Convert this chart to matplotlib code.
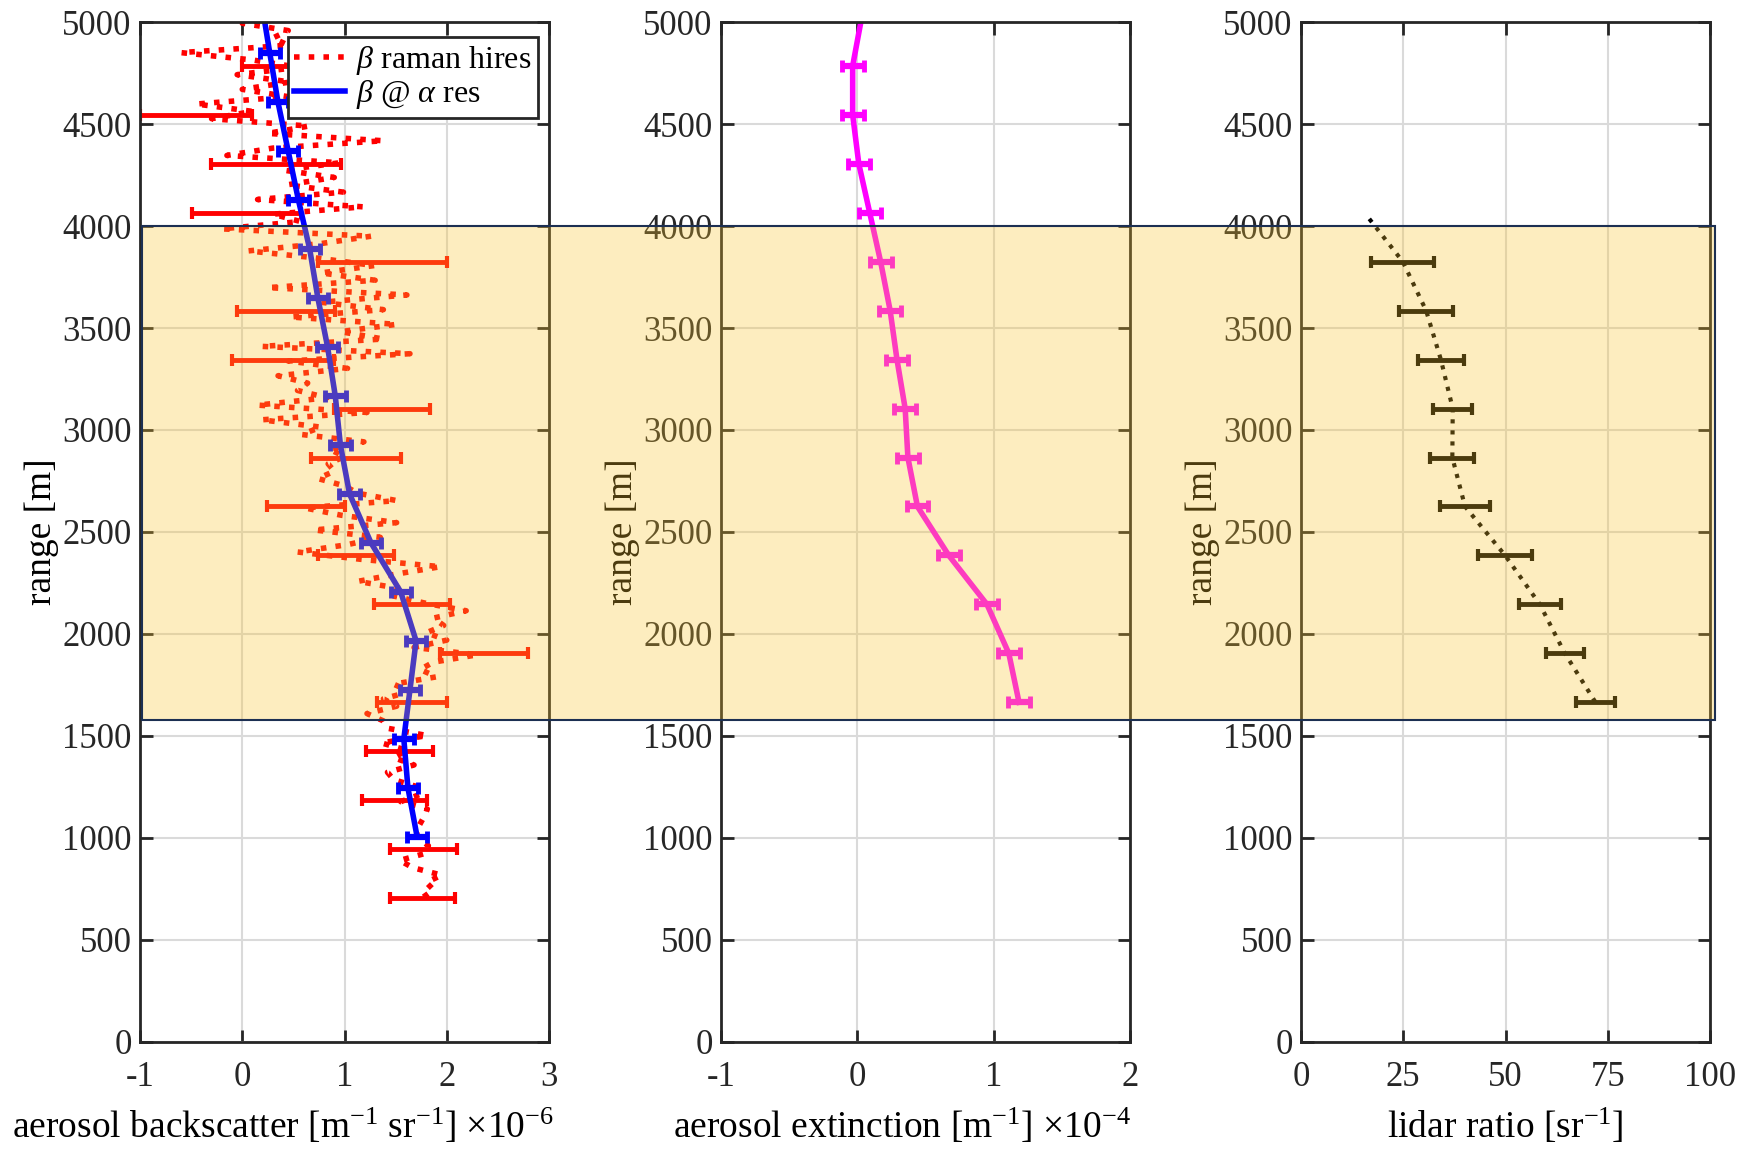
import numpy as np
import matplotlib
matplotlib.use("Agg")
import matplotlib.pyplot as plt
from matplotlib.patches import Rectangle

plt.rcParams['font.family'] = ['Liberation Serif', 'DejaVu Serif']
plt.rcParams['mathtext.fontset'] = 'custom'
plt.rcParams['mathtext.rm'] = 'Liberation Serif'
plt.rcParams['mathtext.it'] = 'Liberation Serif:italic'
plt.rcParams['mathtext.bf'] = 'Liberation Serif:bold'
plt.rcParams['axes.unicode_minus'] = False

# beta raman hires (x1e-6), one value every 36 m from 5030 m downwards
beta_hires = [0.45, 0.0, 0.45, 0.3, 0.45, -0.6, 0.1, 0.55, -0.05, 0.47,
              0.0, 0.45, -0.45, 0.1, -0.3, 0.65, 0.25, 1.38, 0.3, -0.15,
              0.95, 0.4, 0.9, 0.44, 0.99, 0.15, 1.18, 0.3, 0.57, -0.2,
              1.26, 0.77, 0.06, 0.75, 1.29, 0.77, 1.3, 0.25, 1.61, 0.77,
              1.38, 0.47, 1.51, 0.96, 1.38, 0.19, 1.64, 0.45, 1.03, 0.35,
              0.64, 0.54, 0.83, 0.15, 1.22, 0.19, 0.77, 0.58, 1.19, 0.85,
              1.0, 0.84, 0.9, 0.74, 1.0, 1.13, 1.51, 0.61, 0.97, 1.51,
              0.7, 1.35, 1.03, 0.54, 1.16, 1.94, 1.51, 1.13, 1.55, 1.48,
              1.8, 2.19, 1.87, 1.97, 1.8, 2.0, 1.68, 2.3, 1.87, 1.74,
              1.9, 1.48, 1.64, 1.38, 1.51, 1.22, 1.38, 1.42, 1.81, 1.36,
              1.61, 1.48, 1.68, 1.42, 1.48, 1.72, 1.74, 1.55, 1.81, 1.78,
              1.74, 1.7, 1.72, 1.82, 1.8, 1.54, 1.67, 1.95, 1.8, 1.87, 1.77]
range_hires = 5030 - 36 * np.arange(len(beta_hires))

# raman errorbars
range_raman_err = [4785, 4545, 4305, 4065, 3825, 3585, 3345, 3105, 2865,
                   2625, 2385, 2145, 1905, 1665, 1425, 1185, 945, 705]
beta_raman_err = [0.45, -0.45, 0.33, 0.04, 1.37, 0.43, 0.40, 1.37, 1.11,
                  0.62, 1.11, 1.66, 2.36, 1.66, 1.54, 1.49, 1.77, 1.76]
err_raman = [0.45, 0.55, 0.64, 0.53, 0.63, 0.48, 0.50, 0.47, 0.44,
             0.38, 0.37, 0.37, 0.43, 0.34, 0.33, 0.32, 0.33, 0.32]

# beta @ alpha res
range_beta = [5000, 4846, 4606, 4366, 4126, 3886, 3646, 3406, 3166, 2926,
              2686, 2446, 2206, 1966, 1726, 1486, 1246, 1006]
beta_res = [0.22, 0.27, 0.35, 0.45, 0.55, 0.66, 0.74, 0.835, 0.91, 0.96,
            1.05, 1.26, 1.55, 1.70, 1.64, 1.58, 1.62, 1.71]

# extinction (x1e-4)
range_ext = [5000, 4785, 4545, 4305, 4065, 3825, 3585, 3345, 3105, 2865,
             2625, 2385, 2145, 1905, 1665]
alpha_ext = [0.025, -0.035, -0.035, 0.01, 0.09, 0.17, 0.24, 0.29, 0.35, 0.37,
             0.44, 0.67, 0.95, 1.11, 1.185]

# lidar ratio
range_lr = [4035, 3825, 3585, 3345, 3105, 2865, 2625, 2385, 2145, 1905, 1665]
lidar_ratio = [16.7, 24.9, 30.6, 34.2, 37.1, 37.0, 40.1, 49.9, 58.4, 64.5, 72.0]
lr_err = [0, 7.7, 6.6, 5.6, 4.8, 5.4, 6.2, 6.6, 5.1, 4.7, 4.8]

fig = plt.figure(figsize=(17.43, 11.53), dpi=100)
lefts = [0.0803, 0.4137, 0.7464]
axs = [fig.add_axes([l, 0.0963, 0.2347, 0.8846]) for l in lefts]


def style(ax, xlim, xticks, xlabel, xlab_pos):
    ax.set_xlim(xlim)
    ax.set_xticks(xticks)
    ax.set_ylim(0, 5000)
    ax.set_yticks(np.arange(0, 5001, 500))
    ax.grid(True, color='#dadada', lw=1.5)
    ax.set_axisbelow(True)
    ax.tick_params(direction='in', top=True, right=True, length=9, width=2,
                   labelsize=25, colors='#262626')
    ax.tick_params(axis='x', pad=14)
    ax.tick_params(axis='y', pad=6)
    for s in ax.spines.values():
        s.set_linewidth(2)
        s.set_color('#262626')
    ax.set_ylabel('range [m]', fontsize=27, labelpad=2)
    ax.set_xlabel(xlabel, fontsize=27)
    ax.xaxis.set_label_coords(xlab_pos, -0.064)


# backscatter
ax = axs[0]
ax.plot(beta_hires, range_hires, ':', color='red', lw=4, label=r'$\beta$ raman hires')
ax.errorbar(beta_raman_err, range_raman_err, xerr=err_raman, fmt='none',
            ecolor='red', elinewidth=3.5, capsize=4, capthick=3)
ax.plot(beta_res, range_beta, '-', color='blue', lw=4, label=r'$\beta$ @ $\alpha$ res')
ax.errorbar(beta_res[1:], range_beta[1:], xerr=0.1, fmt='none',
            ecolor='blue', elinewidth=4.5, capsize=4, capthick=3.5)
style(ax, (-1, 3), [-1, 0, 1, 2, 3],
      r'aerosol backscatter [m$^{-1}$ sr$^{-1}$] $\times$10$^{-6}$', 0.35)
leg = ax.legend(loc='upper right', bbox_to_anchor=(0.973, 0.985), borderaxespad=0,
                fontsize=23, fancybox=False, framealpha=1, edgecolor='#262626',
                handlelength=1.6, handletextpad=0.35, borderpad=0.2, labelspacing=0.05)
leg.get_frame().set_linewidth(2)

# extinction
ax = axs[1]
ax.plot(alpha_ext, range_ext, '-', color='magenta', lw=4)
ax.errorbar(alpha_ext[1:], range_ext[1:], xerr=0.08, fmt='none',
            ecolor='magenta', elinewidth=4.5, capsize=4, capthick=3.5)
style(ax, (-1, 2), [-1, 0, 1, 2],
      r'aerosol extinction [m$^{-1}$] $\times$10$^{-4}$', 0.443)

# lidar ratio
ax = axs[2]
ax.plot(lidar_ratio, range_lr, ':', color='black', lw=3)
ax.errorbar(lidar_ratio[1:], range_lr[1:], xerr=lr_err[1:], fmt='none',
            ecolor='black', elinewidth=3.5, capsize=4, capthick=3)
style(ax, (0, 100), [0, 25, 50, 75, 100], r'lidar ratio [sr$^{-1}$]', 0.5)

# highlighted layer across all panels
y0 = 0.0963 + 0.8846 * 1580 / 5000
y1 = 0.0963 + 0.8846 * 4000 / 5000
rect = Rectangle((0.0815, y0), 0.984 - 0.0815, y1 - y0, transform=fig.transFigure,
                 facecolor=(0.98, 0.77, 0.18), alpha=0.3, edgecolor='none', zorder=10)
fig.add_artist(rect)
edge = Rectangle((0.0815, y0), 0.984 - 0.0815, y1 - y0, transform=fig.transFigure,
                 facecolor='none', edgecolor='#1c2f52', lw=1.5, zorder=11)
fig.add_artist(edge)

fig.savefig('out.png', dpi=100)
